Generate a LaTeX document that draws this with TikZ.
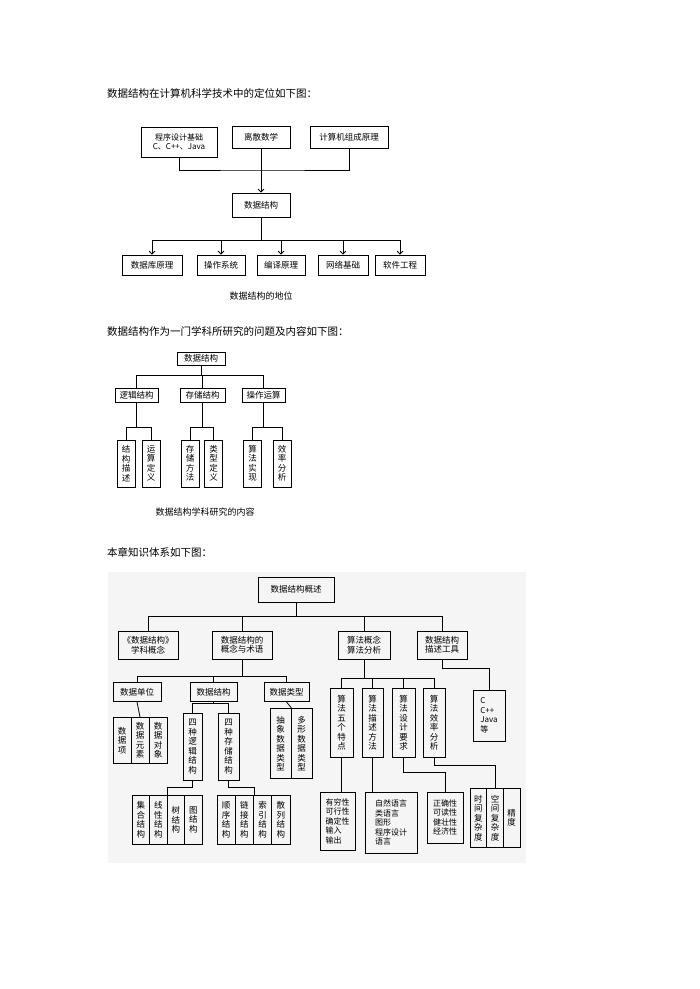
\documentclass[tikz,border=0pt]{standalone}
\usepackage{fontspec}
\setmainfont{Noto Sans CJK SC}
\usetikzlibrary{arrows.meta}
\begin{document}
\begin{tikzpicture}[x=1pt,y=-1pt,
  bx/.style={draw,line width=0.8pt,inner sep=0pt,align=center,font=\fontsize{8.5}{9.5}\selectfont},
  ln/.style={line width=0.8pt},
  ar/.style={line width=0.8pt,-{Straight Barb[length=3pt]}},
  tt/.style={anchor=west,font=\fontsize{10.5}{12}\selectfont,inner sep=0pt},
  captxt/.style={font=\fontsize{9}{10}\selectfont,inner sep=0pt}]
\useasboundingbox[fill=white] (0,0) rectangle (700,989);
\fill[black!4] (108,572) rectangle (526,863);
% ---------- diagram 1
\node[tt] (t1) at (107,93) {数据结构在计算机科学技术中的定位如下图：};
\node[bx,minimum width=76,minimum height=30,font=\fontsize{8}{9}\selectfont] (p1) at (179,142) {程序设计基础\\C、C++、Java};
\node[bx,minimum width=58,minimum height=22] (p2) at (261,137) {离散数学};
\node[bx,minimum width=78,minimum height=22] (p3) at (349,137) {计算机组成原理};
\node[bx,minimum width=58,minimum height=24] (ds) at (261,205) {数据结构};
\node[bx,minimum width=60,minimum height=20] (b1) at (152,265) {数据库原理};
\node[bx,minimum width=48,minimum height=20] (b2) at (221,265) {操作系统};
\node[bx,minimum width=48,minimum height=20] (b3) at (281,265) {编译原理};
\node[bx,minimum width=50,minimum height=20] (b4) at (343,265) {网络基础};
\node[bx,minimum width=50,minimum height=20] (b5) at (400,265) {软件工程};
\node[captxt] (c1) at (261,296) {数据结构的地位};
\coordinate (j1) at (261,170);
\coordinate (j2) at (261,240);
\draw[ln] (p1.south) |- (j1) -| (p3.south);
\draw[ar] (p2.south) -- (ds.north);
\draw[ln] (ds.south) -- (j2);
\draw[ln] (b1.north|-j2) -- (b5.north|-j2);
\foreach \n in {b1,b2,b3,b4,b5} \draw[ar] (\n.north|-j2) -- (\n.north);
% ---------- diagram 2
\node[tt] (t2) at (107,331) {数据结构作为一门学科所研究的问题及内容如下图：};
\node[bx,minimum width=48,minimum height=13] (r2) at (201,358.5) {数据结构};
\node[bx,minimum width=43,minimum height=14] (lg) at (136.5,395) {逻辑结构};
\node[bx,minimum width=45,minimum height=14] (st) at (202.5,395) {存储结构};
\node[bx,minimum width=43,minimum height=14] (op) at (263.5,395) {操作运算};
\foreach \n/\x/\t in {k1/126/结\\构\\描\\述,k2/151/运\\算\\定\\义,k3/190/存\\储\\方\\法,k4/213.5/类\\型\\定\\义,k5/252.5/算\\法\\实\\现,k6/282/效\\率\\分\\析}
  \node[bx,minimum width=18,minimum height=47] (\n) at (\x,463.5) {\t};
\coordinate (j3) at (201,375);
\draw[ln] (r2.south) -- (j3);
\draw[ln] (lg.north|-j3) -- (op.north|-j3);
\foreach \n in {lg,st,op} \draw[ln] (\n.north|-j3) -- (\n.north);
\foreach \p/\a/\b in {lg/k1/k2,st/k3/k4,op/k5/k6}{
  \draw[ln] (\p.south) -- ++(0,25) coordinate (q);
  \draw[ln] (\a.north) |- (q) -| (\b.north);}
\node[captxt] (c2) at (205,512) {数据结构学科研究的内容};
% ---------- diagram 3
\node[tt] (t3) at (107,552) {本章知识体系如下图：};
\node[bx,minimum width=76,minimum height=25] (root) at (296,589.5) {数据结构概述};
\node[bx,minimum width=60,minimum height=28] (a1) at (148,645) {《数据结构》\\学科概念};
\node[bx,minimum width=60,minimum height=28] (a2) at (242,645) {数据结构的\\概念与术语};
\node[bx,minimum width=52,minimum height=28] (a3) at (364,645) {算法概念\\算法分析};
\node[bx,minimum width=50,minimum height=28] (a4) at (442,645) {数据结构\\描述工具};
\coordinate (j4) at (296,616);
\draw[ln] (root.south) -- (j4);
\draw[ln] (a1.north|-j4) -- (a4.north|-j4);
\foreach \n in {a1,a2,a3,a4} \draw[ln] (\n.north|-j4) -- (\n.north);
% a2 branch
\node[bx,minimum width=48,minimum height=19] (u1) at (137,692) {数据单位};
\node[bx,minimum width=47,minimum height=19] (u2) at (213.5,692) {数据结构};
\node[bx,minimum width=45,minimum height=19] (u3) at (286.5,692) {数据类型};
\coordinate (j5) at (242,676);
\draw[ln] (a2.south) -- (j5);
\draw[ln] (u1.north|-j5) -- (u3.north|-j5);
\foreach \n in {u1,u2,u3} \draw[ln] (\n.north|-j5) -- (\n.north);
\foreach \n/\x/\t in {w1/122/数\\据\\项,w2/140/数\\据\\元\\素,w3/158/数\\据\\对\\象}
  \node[bx,minimum width=18,minimum height=46,anchor=north] (\n) at (\x,717) {\t};
\draw[ln] (u1.south) -- (w2.north);
\node[bx,minimum width=19,minimum height=67] (v1) at (192.5,746.5) {四\\种\\逻\\辑\\结\\构};
\node[bx,minimum width=21,minimum height=67] (v2) at (228.5,746.5) {四\\种\\存\\储\\结\\构};
\coordinate (j6) at (213.5,703);
\draw[ln] (u2.south) -- (j6);
\draw[ln] (v1.north) |- (j6) -| (v2.north);
\foreach \n/\x/\t in {x1/140.75/集\\合\\结\\构,x2/158.25/线\\性\\结\\构,x3/175.75/树\\结\\构,x4/193.25/图\\结\\构}
  \node[bx,minimum width=17.5,minimum height=49,anchor=north] (\n) at (\x,795) {\t};
\foreach \n/\x/\t in {y1/226.1/顺\\序\\结\\构,y2/244.4/链\\接\\结\\构,y3/262.6/索\\引\\结\\构,y4/280.9/散\\列\\结\\构}
  \node[bx,minimum width=18.25,minimum height=49,anchor=north] (\n) at (\x,795) {\t};
\draw[ln] (v1.south) -- ++(0,7) -| (x2.north east);
\draw[ln] (v2.south) -- ++(0,7) -| (y2.north east);
\foreach \n/\x/\t in {z1/280.5/抽\\象\\数\\据\\类\\型,z2/301.5/多\\形\\数\\据\\类\\型}
  \node[bx,minimum width=21,minimum height=70,anchor=north] (\n) at (\x,708) {\t};
\draw[ln] (u3.south) -- (z1.north east);
% a3 branch
\node[bx,minimum width=23,minimum height=69] (g1) at (341.5,722.5) {算\\法\\五\\个\\特\\点};
\node[bx,minimum width=21,minimum height=69] (g2) at (372.5,722.5) {算\\法\\描\\述\\方\\法};
\node[bx,minimum width=23,minimum height=69] (g3) at (403.5,722.5) {算\\法\\设\\计\\要\\求};
\node[bx,minimum width=22,minimum height=69] (g4) at (434,722.5) {算\\法\\效\\率\\分\\析};
\coordinate (j7) at (364,678);
\draw[ln] (a3.south) -- (j7);
\draw[ln] (g1.north|-j7) -- (g4.north|-j7);
\foreach \n in {g1,g2,g3,g4} \draw[ln] (\n.north|-j7) -- (\n.north);
\node[bx,minimum width=35,minimum height=58,align=left,font=\fontsize{8}{9.5}\selectfont] (d1) at (337.5,821) {有穷性\\可行性\\确定性\\输入\\输出};
\node[bx,minimum width=52,minimum height=61,align=left,font=\fontsize{8}{9.5}\selectfont] (d2) at (391,822.5) {自然语言\\类语言\\图形\\程序设计\\语言};
\node[bx,minimum width=36,minimum height=51,align=left,font=\fontsize{8}{9.5}\selectfont] (d3) at (445,817.5) {正确性\\可读性\\健壮性\\经济性};
\foreach \n/\x/\t in {e1/478.3/时\\间\\复\\杂\\度,e2/495/空\\间\\复\\杂\\度,e3/511.7/精\\度}
  \node[bx,minimum width=16.7,minimum height=59,anchor=north] (\n) at (\x,788) {\t};
\draw[ln] (g1.south) -- (g1.south|-d1.north);
\draw[ln] (g2.south) -- (g2.south|-d2.north);
\draw[ln] (g3.south) -- ++(0,15) -| (d3.north);
\draw[ln] (g4.south) -- ++(0,8) -| (e2.north);
% a4 branch
\node[bx,minimum width=32,minimum height=51,align=left,font=\fontsize{8}{9.5}\selectfont] (f1) at (489,715.5) {C\\C++\\Java\\等};
\draw[ln] (a4.south) -- ++(0,9) -| (f1.north);
\end{tikzpicture}
\end{document}
